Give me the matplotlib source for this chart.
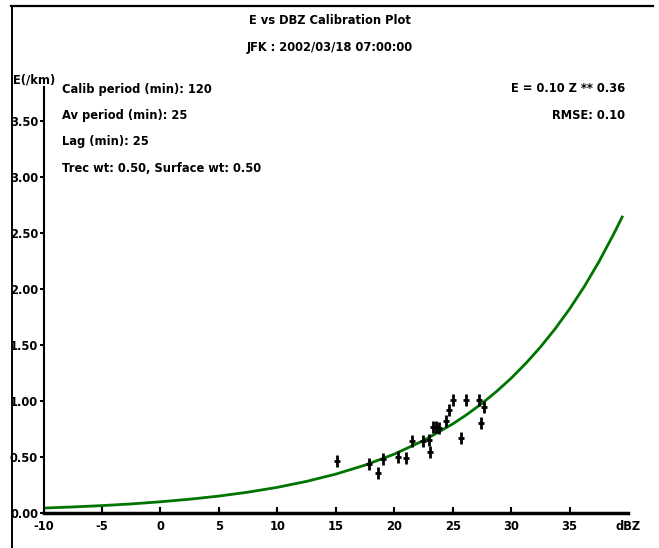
import numpy as np
import matplotlib
matplotlib.use('Agg')
import matplotlib.pyplot as plt
from matplotlib.lines import Line2D

# fitted curve (dBZ, E)
curve_dbz = [-10, -7.5, -5, -2.5, 0, 2.5, 5, 7.5, 10, 12.5, 15, 17.5, 20,
             22.5, 25, 26.25, 27.5, 28.75, 30, 31.25, 32.5, 33.75, 35, 36.25,
             37.5, 38.75, 39.5]
curve_e = [0.044, 0.054, 0.066, 0.081, 0.100, 0.123, 0.151, 0.186, 0.229,
           0.282, 0.347, 0.427, 0.525, 0.646, 0.794, 0.881, 0.977, 1.084,
           1.202, 1.334, 1.479, 1.641, 1.820, 2.018, 2.239, 2.483, 2.640]

# observed points
obs_dbz = [15.1, 17.8, 18.6, 19.0, 20.3, 21.0, 21.5, 22.5, 23.0, 23.05,
           23.35, 23.55, 23.8, 24.45, 24.65, 25.0, 25.7, 26.1, 27.25, 27.4, 27.7]
obs_e = [0.46, 0.44, 0.36, 0.48, 0.50, 0.49, 0.64, 0.64, 0.65, 0.54,
         0.77, 0.77, 0.76, 0.82, 0.92, 1.01, 0.67, 1.01, 1.01, 0.80, 0.95]

xticks = [-10, -5, 0, 5, 10, 15, 20, 25, 30, 35]
yticks = [0.0, 0.5, 1.0, 1.5, 2.0, 2.5, 3.0, 3.5]

info_left = ["Calib period (min): 120", "Av period (min): 25", "Lag (min): 25",
             "Trec wt: 0.50, Surface wt: 0.50"]
info_right = ["E = 0.10 Z ** 0.36", "RMSE: 0.10"]

W, H = 659, 548
font = dict(family=['Liberation Sans Narrow', 'DejaVu Sans'], weight='bold', size=8.3)

fig = plt.figure(figsize=(W / 100, H / 100), dpi=100)
ax = fig.add_axes([43.6 / W, (H - 513) / H, (628 - 43.6) / W, (513 - 87) / H])

ax.plot(curve_dbz, curve_e, color='#007400', lw=2.0, zorder=2)
ax.plot(obs_dbz, obs_e, ls='none', marker='|', ms=9, mew=2, color='black', zorder=3)
ax.plot(obs_dbz, obs_e, ls='none', marker='_', ms=5, mew=2, color='black', zorder=3)

ax.set_xlim(-10, 40)
ax.set_ylim(0, 3.8)
ax.set_xticks(xticks)
ax.set_xticklabels([str(t) for t in xticks], fontdict=font)
ax.set_yticks(yticks)
ax.set_yticklabels(['%.2f' % t for t in yticks], fontdict=font)
ax.tick_params(axis='x', direction='in', length=4, width=1.5, pad=5)
ax.tick_params(axis='y', direction='out', length=3, width=1.5, pad=1)
for s in ['top', 'right']:
    ax.spines[s].set_visible(False)
ax.spines['bottom'].set_linewidth(2.5)
ax.spines['left'].set_linewidth(1.5)
ax.patch.set_alpha(0)

ax.text(40, -0.06, 'dBZ', ha='center', va='top', transform=ax.transData, fontdict=font)


def ftext(x, y, s, **kw):
    fig.text(x / W, 1 - y / H, s, fontdict=font, **kw)


ftext(330, 20, 'E vs DBZ Calibration Plot', ha='center', va='center')
ftext(330, 47, 'JFK : 2002/03/18 07:00:00', ha='center', va='center')
ftext(13, 80, 'E(/km)', ha='left', va='center')
for i, s in enumerate(info_left):
    ftext(62, 89 + i * 26.5, s, ha='left', va='center')
for i, s in enumerate(info_right):
    ftext(625, 89 + i * 26.5, s, ha='right', va='center')

# frame
fig.add_artist(Line2D([11 / W, 653 / W], [1 - 5.5 / H, 1 - 5.5 / H], color='black', lw=1.6))
fig.add_artist(Line2D([12 / W, 12 / W], [1 - 5.5 / H, 0], color='black', lw=1.4))

fig.savefig('out.png', dpi=100)
